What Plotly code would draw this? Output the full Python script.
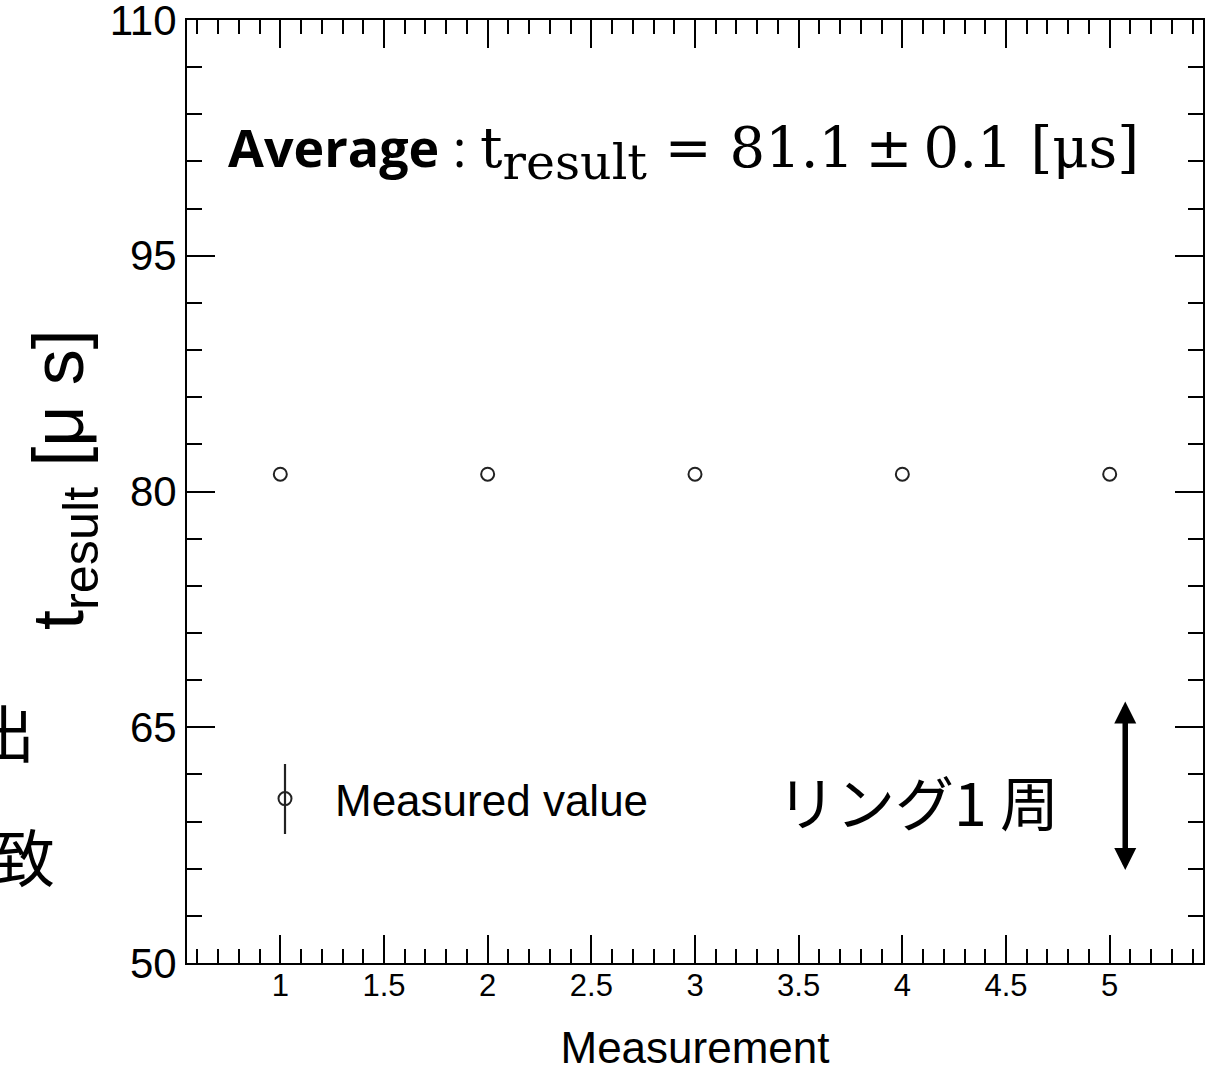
import plotly.graph_objects as go

# Five repeated measurements of t_result (microseconds)
measurement = [1, 2, 3, 4, 5]
t_result = [81.1, 81.1, 81.1, 81.1, 81.1]
t_error = [0.1, 0.1, 0.1, 0.1, 0.1]

x_tickvals = [1, 1.5, 2, 2.5, 3, 3.5, 4, 4.5, 5]
x_ticktext = ["1", "1.5", "2", "2.5", "3", "3.5", "4", "4.5", "5"]
y_tickvals = [50, 65, 80, 95, 110]
y_ticktext = ["50", "65", "80", "95", "110"]

X_RANGE = [0.55, 5.45]
Y_RANGE = [50, 110]

W, H = 1214, 1072
ML, MR, MT, MB = 187, 11, 20, 109
PW, PH = W - ML - MR, H - MT - MB

SANS = "Liberation Sans, Arial, sans-serif"
CJK = "Noto Sans CJK JP, sans-serif"


def px_x(p):
    """pixel column -> paper x"""
    return (p - ML) / PW


def px_y(p):
    """pixel row -> paper y"""
    return (H - MB - p) / PH


fig = go.Figure()

# the +-0.1 error bars are smaller than the marker, so they stay hidden
fig.add_trace(go.Scatter(
    x=measurement, y=t_result,
    mode="markers",
    name="Measured value",
    marker=dict(symbol="circle-open", size=13, color="#222222",
                line=dict(width=2, color="#222222")),
    error_y=dict(type="data", array=t_error, visible=False),
))

axis_common = dict(
    showline=True, linecolor="black", linewidth=2, mirror="allticks",
    ticks="inside", tickcolor="black", tickwidth=1.8, ticklen=28,
    showgrid=False, zeroline=False, ticklabeloverflow="allow",
    tickfont=dict(family=SANS, color="black"),
)

fig.update_xaxes(
    **axis_common,
    range=X_RANGE,
    tickmode="array", tickvals=x_tickvals, ticktext=x_ticktext,
    ticklabelstandoff=-6,
    minor=dict(ticks="inside", dtick=0.1, tick0=0, ticklen=14,
               tickwidth=1.8, tickcolor="black", showgrid=False),
    title=dict(text="Measurement", standoff=34,
               font=dict(family=SANS, size=44, color="black")),
)
fig.update_xaxes(tickfont_size=31)

fig.update_yaxes(
    **axis_common,
    range=[Y_RANGE[0] - 0.001, Y_RANGE[1] + 0.001],
    tickmode="array", tickvals=y_tickvals, ticktext=y_ticktext,
    minor=dict(ticks="inside", dtick=3, tick0=50, ticklen=15,
               tickwidth=1.8, tickcolor="black", showgrid=False),
)
fig.update_yaxes(tickfont_size=42)

annotations = [
    # y-axis title
    dict(xref="paper", yref="paper", x=px_x(63), y=px_y(480),
         xanchor="center", yanchor="middle", textangle=-90, showarrow=False,
         text="t<sub>result</sub> [μ s]",
         font=dict(family=SANS, size=72, color="black")),
    # average result
    dict(xref="paper", yref="paper", x=px_x(226), y=px_y(151),
         xanchor="left", yanchor="middle", showarrow=False,
         text=("<b>Average</b> : "
               "<span style='font-family:DejaVu Serif, serif;font-size:56px'>"
               "t<sub><span style='font-size:49px'>result</span></sub>"
               " = 81.1\u2009±\u20090.1 [μs]</span>"),
         font=dict(family="Open Sans, Noto Sans, sans-serif", size=52,
                   color="black")),
    # one turn of the ring
    dict(xref="paper", yref="paper", x=px_x(918), y=px_y(800),
         xanchor="center", yanchor="middle", showarrow=False,
         text="リング1 周",
         font=dict(family=CJK, size=59, color="black")),
    dict(xref="x", yref="y", axref="x", ayref="y",
         x=5.075, y=55.92, ax=5.075, ay=66.73,
         text="", showarrow=True, arrowside="end+start",
         arrowhead=2, arrowsize=0.8, arrowwidth=5.5, arrowcolor="black",
         standoff=0, startstandoff=0, startarrowhead=2, startarrowsize=0.8),
    # slide text running off the left edge
    dict(xref="paper", yref="paper", x=px_x(37), y=px_y(731),
         xanchor="right", yanchor="middle", showarrow=False, text="出",
         font=dict(family=CJK, size=62, color="black")),
    dict(xref="paper", yref="paper", x=px_x(57), y=px_y(855),
         xanchor="right", yanchor="middle", showarrow=False, text="致",
         font=dict(family=CJK, size=62, color="black")),
]

fig.update_layout(
    width=W, height=H,
    margin=dict(l=ML, r=MR, t=MT, b=MB, autoexpand=False),
    paper_bgcolor="white", plot_bgcolor="white",
    showlegend=True,
    legend=dict(x=px_x(235), y=px_y(799), xanchor="left", yanchor="middle",
                bgcolor="rgba(0,0,0,0)", itemwidth=90,
                font=dict(family=SANS, size=44, color="black")),
    annotations=annotations,
    shapes=[
        # error-bar stroke of the legend symbol
        dict(type="line", xref="paper", yref="paper",
             x0=px_x(285), x1=px_x(285), y0=px_y(764), y1=px_y(834),
             line=dict(color="#222222", width=2.2)),
    ],
)

fig.write_html("out.html")
